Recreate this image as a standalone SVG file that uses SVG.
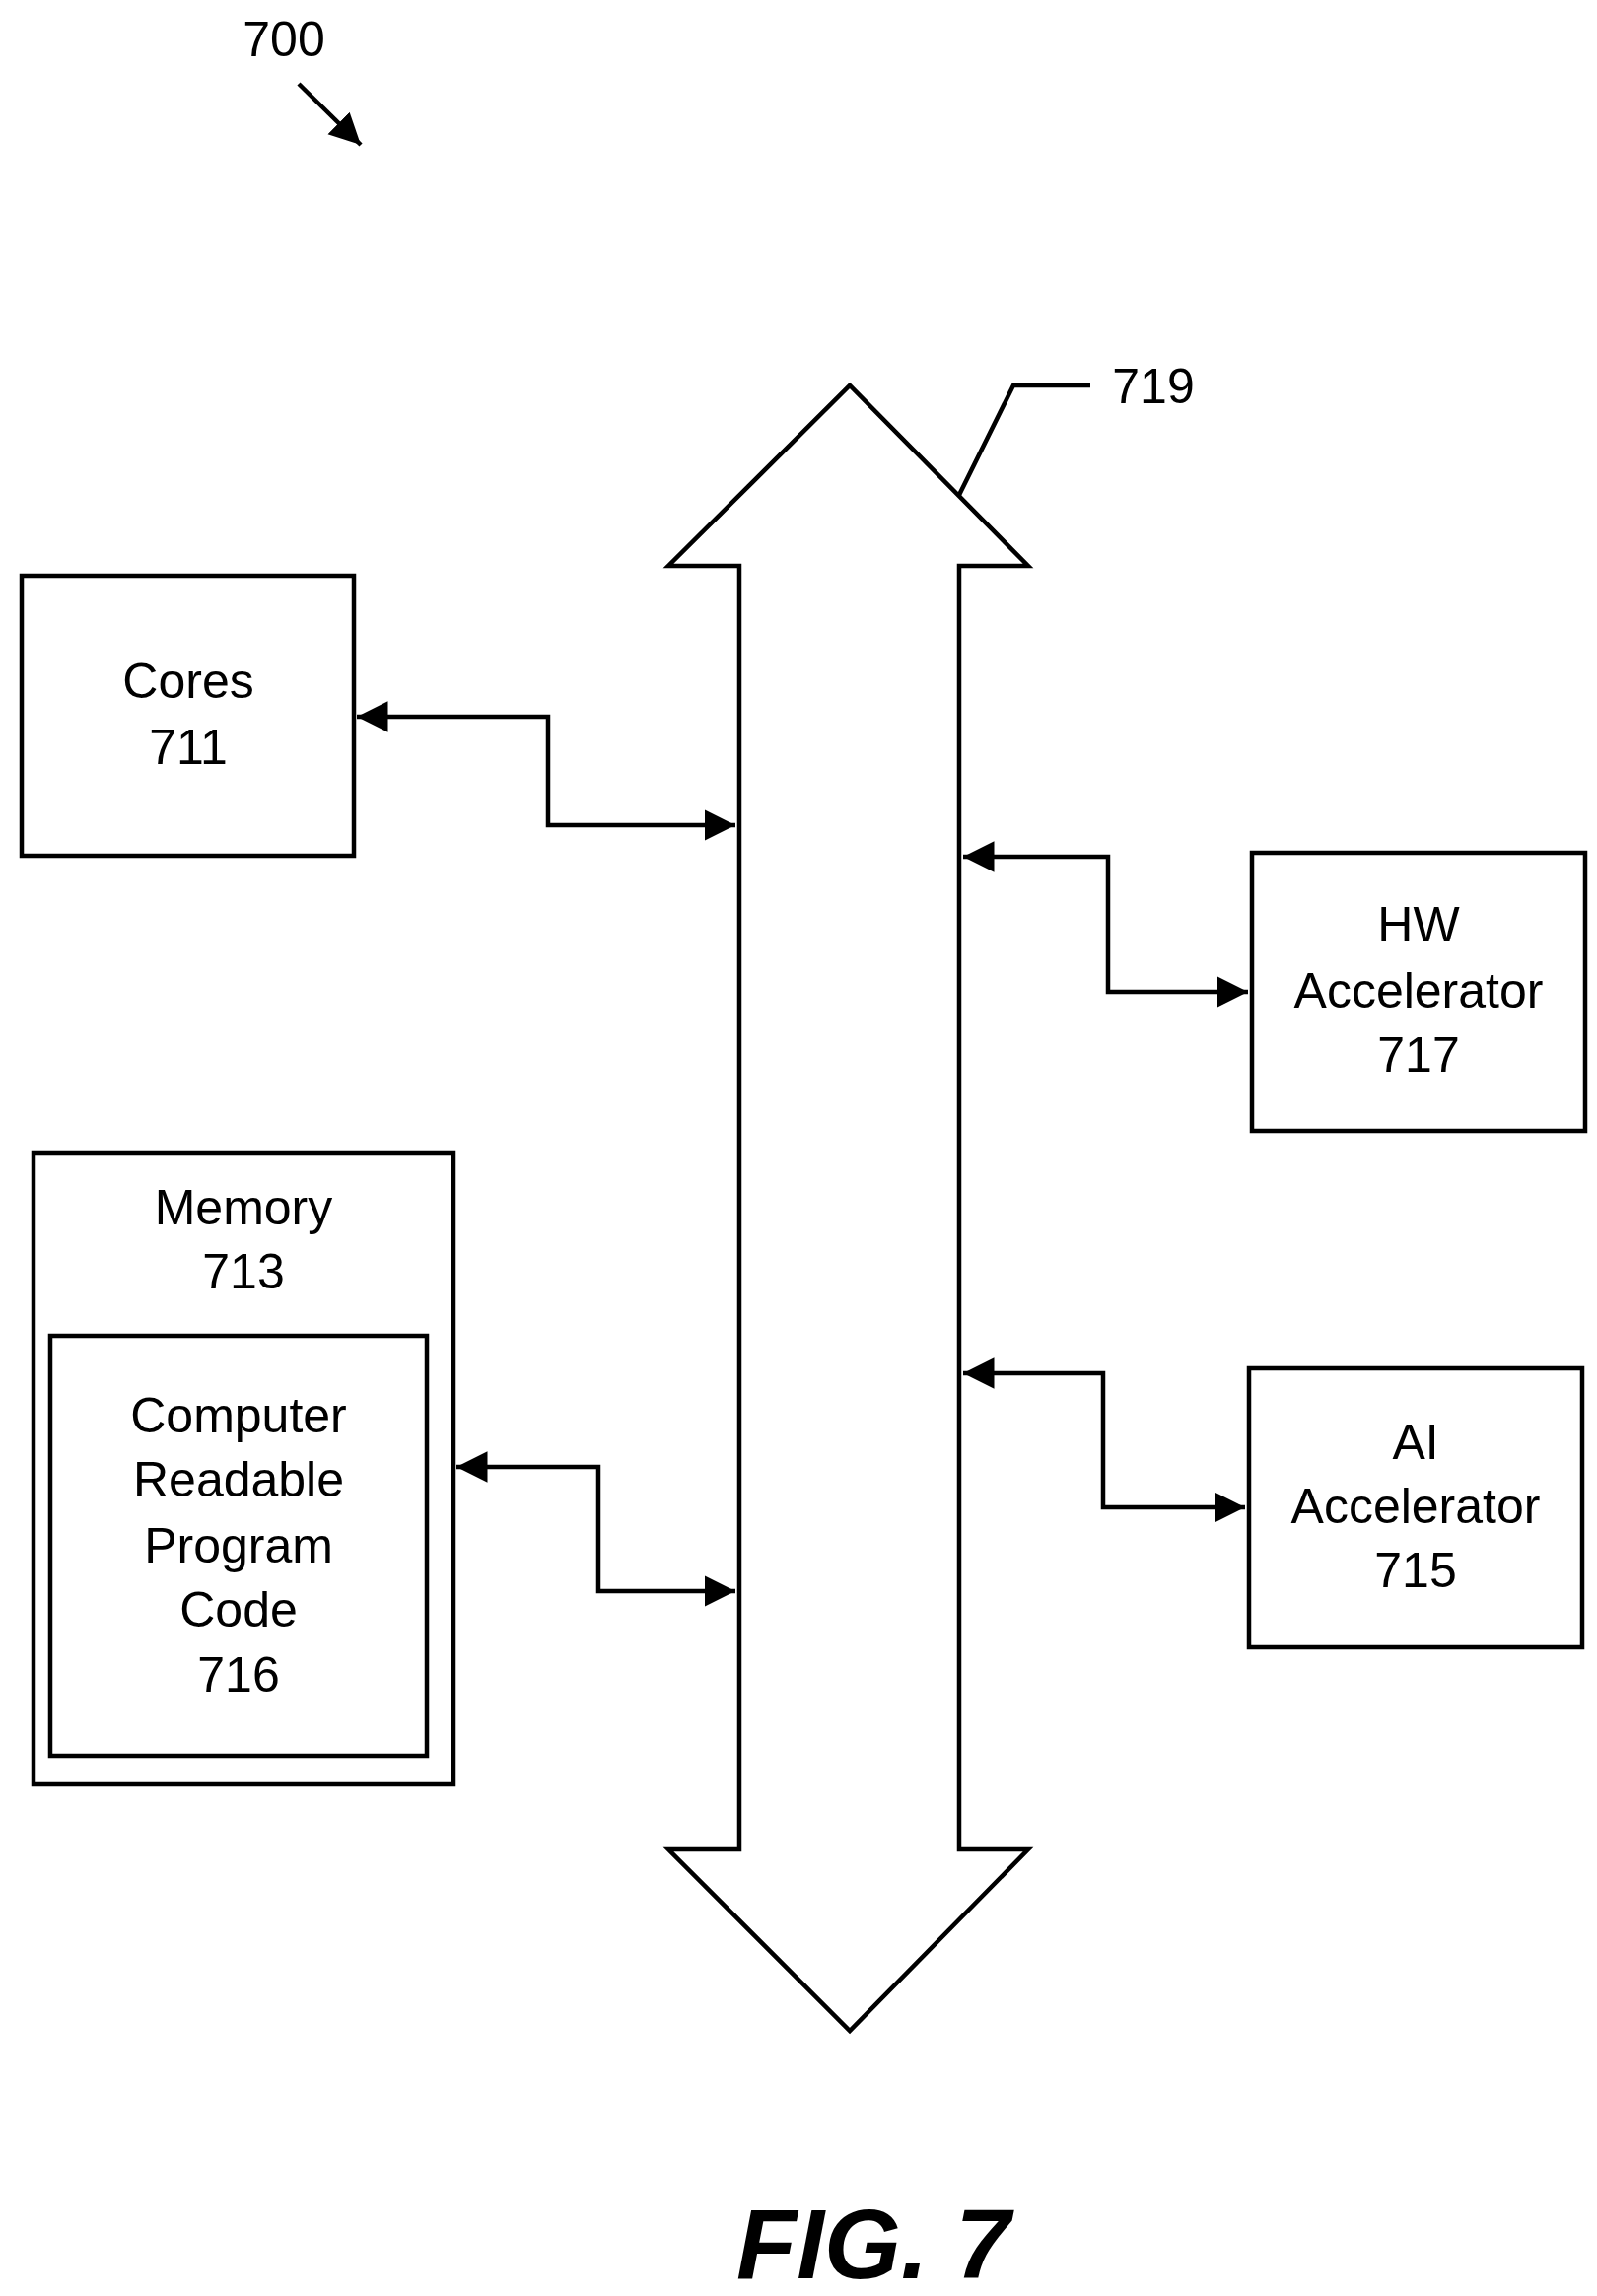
<svg xmlns="http://www.w3.org/2000/svg" width="1620" height="2329" viewBox="0 0 1620 2329">
<style>
.b{fill:none;stroke:#000;stroke-width:4.5}
.c{fill:none;stroke:#000;stroke-width:4.5}
text{font-family:"Liberation Sans",Arial,sans-serif;font-size:50px;text-anchor:middle;fill:#000}
</style>
<defs>
<marker id="a" markerWidth="8" markerHeight="8" refX="7" refY="4" orient="auto-start-reverse" markerUnits="strokeWidth"><path d="M0,0.5 L7,4 L0,7.5 Z" fill="#000"/></marker>
</defs>
<rect width="1620" height="2329" fill="#fff"/>
<g id="n700"><text x="288" y="57">700</text><line x1="303" y1="85" x2="366" y2="147" class="c" marker-end="url(#a)"/></g>
<g id="bus719">
<path class="b" d="M750,1876 L750,574 L678,574 L862,391 L1043,574 L973,574 L973,1876 L1043,1876 L862,2060 L678,1876 Z"/>
<path class="c" d="M973,502 L1028,391 L1106,391"/>
<text x="1170" y="409">719</text>
</g>
<g id="cores"><rect x="22" y="584" width="337" height="284" class="b"/><text x="191" y="708">Cores</text><text x="191" y="775">711</text></g>
<g id="hw"><rect x="1270" y="865" width="338" height="282" class="b"/><text x="1439" y="955">HW</text><text x="1439" y="1022">Accelerator</text><text x="1439" y="1087">717</text></g>
<g id="ai"><rect x="1267" y="1388" width="338" height="283" class="b"/><text x="1436" y="1480">AI</text><text x="1436" y="1545">Accelerator</text><text x="1436" y="1610">715</text></g>
<g id="memory"><rect x="34" y="1170" width="426" height="640" class="b"/><text x="247" y="1242">Memory</text><text x="247" y="1307">713</text>
<g id="code"><rect x="51" y="1355" width="382" height="426" class="b"/><text x="242" y="1453">Computer</text><text x="242" y="1518">Readable</text><text x="242" y="1585">Program</text><text x="242" y="1650">Code</text><text x="242" y="1716">716</text></g></g>
<g id="connectors">
<path class="c" d="M362,727 L556,727 L556,837 L746,837" marker-start="url(#a)" marker-end="url(#a)"/>
<path class="c" d="M977,869 L1124,869 L1124,1006 L1266,1006" marker-start="url(#a)" marker-end="url(#a)"/>
<path class="c" d="M977,1393 L1119,1393 L1119,1529 L1263,1529" marker-start="url(#a)" marker-end="url(#a)"/>
<path class="c" d="M463,1488 L607,1488 L607,1614 L746,1614" marker-start="url(#a)" marker-end="url(#a)"/>
</g>
<text x="886" y="2311" style="font-size:100px;font-weight:bold;font-style:italic">FIG. 7</text>
</svg>
